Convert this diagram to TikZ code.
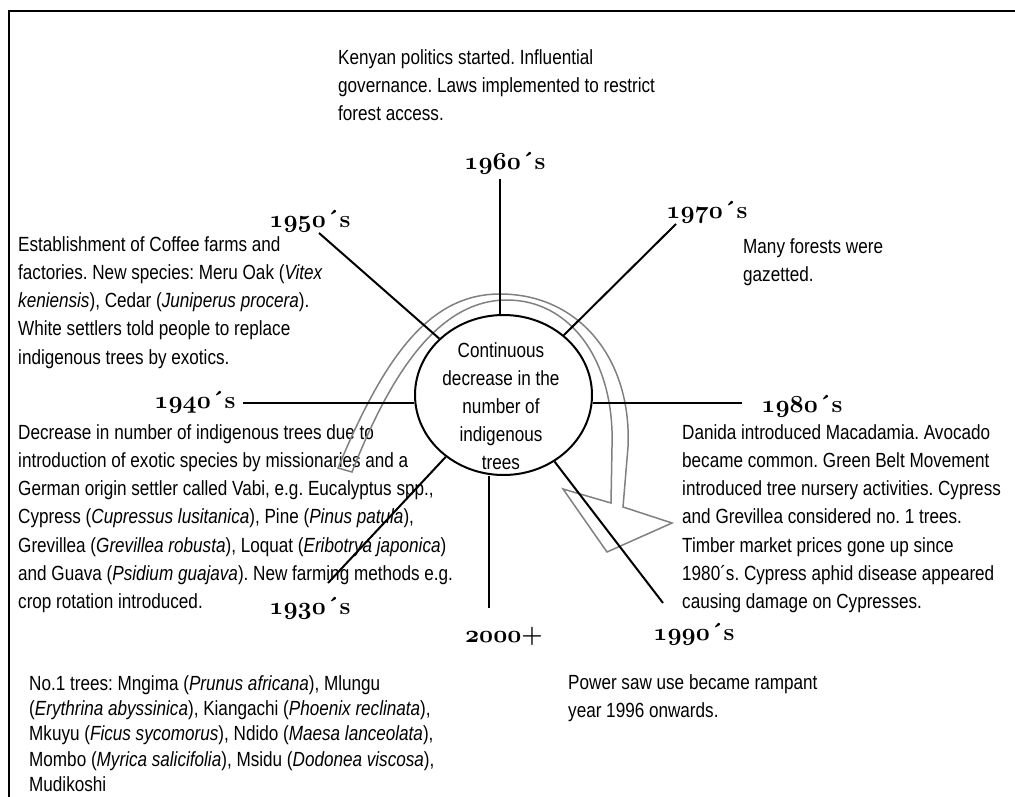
\RequirePackage{fix-cm}
\documentclass[tikz,border=0pt]{standalone}
\usepackage{fontspec}
\setsansfont{Liberation Sans}[FakeStretch=0.835]
\usetikzlibrary{shapes.geometric}
\newcommand\osn[1]{\ensuremath{\mathnormal{#1}}}
\frenchspacing
\begin{document}
\begin{tikzpicture}[x=1pt,y=-1pt,
  txt/.style={font=\sffamily\fontsize{20.5}{28.3}\selectfont, align=left, inner sep=0pt, anchor=north west},
  yr/.style={font=\rmfamily\bfseries\boldmath\fontsize{24.5}{30}\selectfont, inner sep=0pt, anchor=base},
  spoke/.style={line width=2pt},
  arr/.style={draw=gray, line width=1.5pt, line join=miter}]
\useasboundingbox (0,0) rectangle (1015,797);
\draw[line width=2pt] (9,797) -- (9,11) -- (1015,11);
% texts
\node[txt] (t60) at (338,44) {\strut Kenyan politics started. Influential\\governance. Laws implemented to restrict\\forest access.};
\node[txt] (t50) at (18,231) {\strut Establishment of Coffee farms and\\factories. New species: Meru Oak (\textit{Vitex}\\\textit{keniensis}), Cedar (\textit{Juniperus procera}).\\White settlers told people to replace\\indigenous trees by exotics.};
\node[txt] (t70) at (743,233) {\strut Many forests were\\gazetted.};
\node[txt] (t40) at (18,419) {\strut Decrease in number of indigenous trees due to\\introduction of exotic species by missionaries and a\\German origin settler called Vabi, e.g. Eucalyptus spp.,\\Cypress (\textit{Cupressus lusitanica}), Pine (\textit{Pinus patula}),\\Grevillea (\textit{Grevillea robusta}), Loquat (\textit{Eribotrya japonica})\\and Guava (\textit{Psidium guajava}). New farming methods e.g.\\crop rotation introduced.};
\node[txt] (t80) at (682,419) {\strut Danida introduced Macadamia. Avocado\\became common. Green Belt Movement\\introduced tree nursery activities. Cypress\\and Grevillea considered no. 1 trees.\\Timber market prices gone up since\\1980´s. Cypress aphid disease appeared\\causing damage on Cypresses.};
\node[txt] (t90) at (568,669) {\strut Power saw use became rampant\\year 1996 onwards.};
\node[txt, font=\sffamily\fontsize{20.5}{25.3}\selectfont] (t30) at (29,672.3) {\strut No.1 trees: Mngima (\textit{Prunus africana}), Mlungu\\(\textit{Erythrina abyssinica}), Kiangachi (\textit{Phoenix reclinata}),\\Mkuyu (\textit{Ficus sycomorus}), Ndido (\textit{Maesa lanceolata}),\\Mombo (\textit{Myrica salicifolia}), Msidu (\textit{Dodonea viscosa}),\\Mudikoshi};
% year labels
\node[yr] (y60) at (505,170) {\osn{1960}´s};
\node[yr] (y50) at (310,227) {\osn{1950}´s};
\node[yr] (y70) at (707,218) {\osn{1970}´s};
\node[yr] (y40) at (195,408) {\osn{1940}´s};
\node[yr] (y80) at (802,412) {\osn{1980}´s};
\node[yr] (y30) at (310,614) {\osn{1930}´s};
\node[yr] (y00) at (504,642) {\osn{2000}+};
\node[yr] (y90) at (694,640) {\osn{1990}´s};
% centre
\node[draw, ellipse, line width=2pt, minimum width=177pt, minimum height=160pt, inner sep=0pt] (C) at (503.5,395) {};
\node[font=\sffamily\fontsize{20.5}{28}\selectfont, align=center, inner sep=0pt, anchor=north] (ct) at (501,338) {\strut Continuous\\decrease in the\\number of\\indigenous\\trees};
% curved arrow
\draw[arr] (338,468) .. controls (385,355) and (430,294) .. (500,294) .. controls (580,294) and (632,360) .. (628,447) -- (623,507) -- (672,523) -- (607,552) -- (563,489) -- (611,503) -- (612,447) .. controls (615,360) and (570,300) .. (507,300) .. controls (440,300) and (392,370) .. (352,472) -- cycle;
% spokes
\coordinate (e60) at (500,179);
\coordinate (e50) at (319,233);
\coordinate (e70) at (676,224);
\coordinate (e40) at (243,403);
\coordinate (e80) at (742,403);
\coordinate (e30) at (328,583);
\coordinate (e00) at (489,608);
\coordinate (e90) at (663,603);
\draw[spoke] (e60) -- (e60 |- C.north);
\draw[spoke] (e50) -- (C);
\draw[spoke] (e70) -- (C);
\draw[spoke] (e40) -- (e40 -| C.west);
\draw[spoke] (e80) -- (e80 -| C.east);
\draw[spoke] (e30) -- (C);
\draw[spoke] (e00) -- (e00 |- C.south);
\draw[spoke] (e90) -- (C);
\end{tikzpicture}
\end{document}
